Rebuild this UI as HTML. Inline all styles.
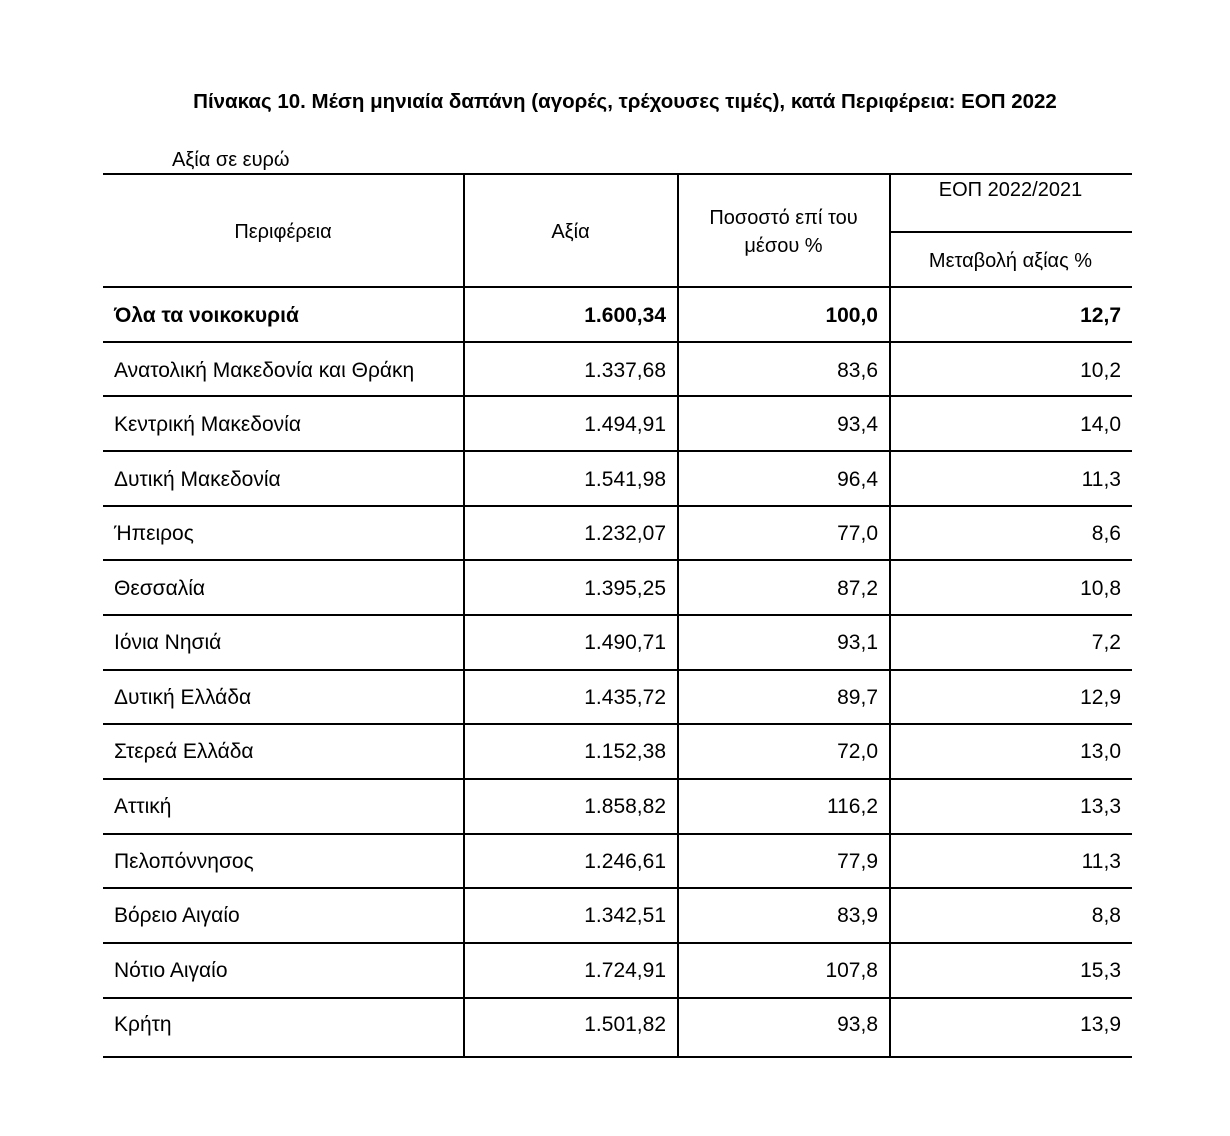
<!DOCTYPE html>
<html><head><meta charset="utf-8"><style>
body{margin:0;width:1230px;height:1136px;background:#fff;font-family:"Liberation Sans",sans-serif;color:#000;position:relative;overflow:hidden}
.h{position:absolute;height:2px;background:#000}
.v{position:absolute;width:2px;background:#000}
.t{position:absolute;font-size:21px;line-height:24px;white-space:nowrap}
.r{text-align:right}
.c{text-align:center}
</style></head><body>
<div class="t c" style="left:0;width:1250px;top:90px;font-weight:bold;font-size:20.5px">Πίνακας 10. Μέση μηνιαία δαπάνη (αγορές, τρέχουσες τιμές), κατά Περιφέρεια: ΕΟΠ 2022</div>
<div class="t" style="left:172px;top:148px;font-size:20px">Αξία σε ευρώ</div>

<div class="h" style="left:103px;width:1029px;top:173px"></div>
<div class="h" style="left:890px;width:242px;top:231px"></div>
<div class="h" style="left:103px;width:1029px;top:286px"></div>
<div class="v" style="left:463px;top:173px;height:885px"></div>
<div class="v" style="left:677px;top:173px;height:885px"></div>
<div class="v" style="left:889px;top:173px;height:885px"></div>

<div class="t c" style="left:103px;width:360px;top:220px;font-size:20px">Περιφέρεια</div>
<div class="t c" style="left:464px;width:213px;top:220px;font-size:20px">Αξία</div>
<div class="t c" style="left:678px;width:211px;top:206px;font-size:20px">Ποσοστό επί του</div>
<div class="t c" style="left:678px;width:211px;top:234px;font-size:20px">μέσου %</div>
<div class="t c" style="left:890px;width:241px;top:178px;font-size:20px">ΕΟΠ 2022/2021</div>
<div class="t c" style="left:890px;width:241px;top:249px;font-size:20px">Μεταβολή αξίας %</div>

<div id="rows"></div>
<script>
var d=[["Όλα τα νοικοκυριά","1.600,34","100,0","12,7",1],
["Ανατολική Μακεδονία και Θράκη","1.337,68","83,6","10,2"],
["Κεντρική Μακεδονία","1.494,91","93,4","14,0"],
["Δυτική Μακεδονία","1.541,98","96,4","11,3"],
["Ήπειρος","1.232,07","77,0","8,6"],
["Θεσσαλία","1.395,25","87,2","10,8"],
["Ιόνια Νησιά","1.490,71","93,1","7,2"],
["Δυτική Ελλάδα","1.435,72","89,7","12,9"],
["Στερεά Ελλάδα","1.152,38","72,0","13,0"],
["Αττική","1.858,82","116,2","13,3"],
["Πελοπόννησος","1.246,61","77,9","11,3"],
["Βόρειο Αιγαίο","1.342,51","83,9","8,8"],
["Νότιο Αιγαίο","1.724,91","107,8","15,3"],
["Κρήτη","1.501,82","93,8","13,9"]];
var h="";
for(var i=0;i<d.length;i++){var y=Math.round(286+i*54.67),ty=Math.round(316+i*54.55)-12,w=d[i][4]?"font-weight:bold;":"";
var ly=(i==d.length-1)?1056:Math.round(286+(i+1)*54.67);
h+='<div class="h" style="left:103px;width:1029px;top:'+ly+'px"></div>';
h+='<div class="t" style="'+w+'left:114px;top:'+ty+'px">'+d[i][0]+'</div>';
h+='<div class="t r" style="'+w+'left:464px;width:202px;top:'+ty+'px">'+d[i][1]+'</div>';
h+='<div class="t r" style="'+w+'left:678px;width:200px;top:'+ty+'px">'+d[i][2]+'</div>';
h+='<div class="t r" style="'+w+'left:890px;width:231px;top:'+ty+'px">'+d[i][3]+'</div>';}
document.getElementById("rows").innerHTML=h;
</script>
</body></html>
